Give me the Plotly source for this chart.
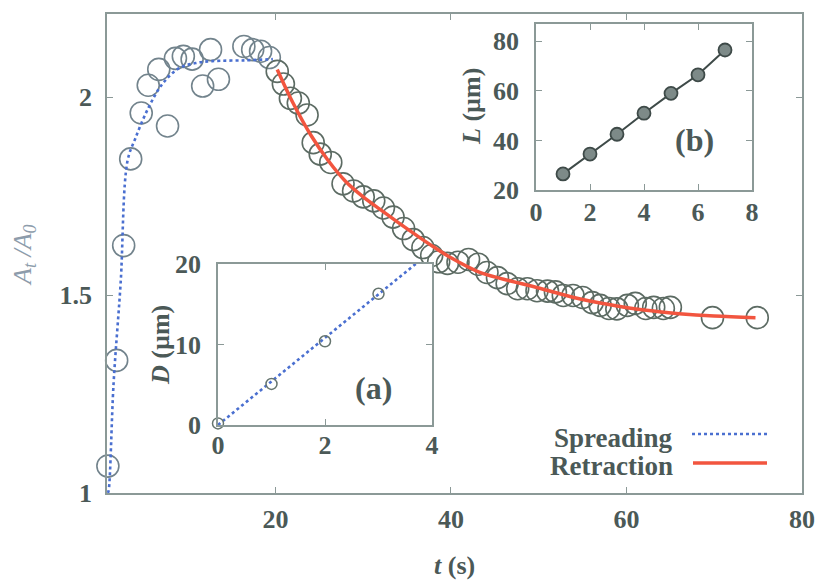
import plotly.graph_objects as go

# ---------------- data ----------------
spread_t = [0.9, 1.9, 2.7, 3.5, 4.7, 5.5, 6.7, 7.7, 8.6, 9.5, 10.5, 11.7, 12.6, 13.5,
            16.4, 17.4, 18.3, 19.3]
spread_A = [1.068, 1.335, 1.625, 1.844, 1.960, 2.030, 2.070, 1.927, 2.098, 2.103, 2.096,
            2.028, 2.120, 2.045, 2.128, 2.120, 2.116, 2.100]

retract_t = [20.2, 20.9, 21.7, 22.6, 23.6, 24.3, 25.1, 26.3, 27.7, 28.9, 30.0, 31.2, 32.3,
             33.4, 34.6, 35.7, 36.8, 37.8, 38.6, 39.6, 40.8, 42.0, 43.1, 44.1, 45.3, 46.4,
             47.6, 48.7, 49.8, 51.0, 51.9, 52.8, 53.9, 55.0, 56.1, 57.0, 58.0, 58.9, 60.1,
             61.0, 62.2, 63.1, 64.2, 65.0, 69.8, 74.9]
retract_A = [2.065, 2.033, 1.997, 1.985, 1.955, 1.885, 1.856, 1.835, 1.781, 1.763, 1.748,
             1.738, 1.720, 1.697, 1.668, 1.640, 1.620, 1.600, 1.584, 1.580, 1.583, 1.590,
             1.578, 1.557, 1.544, 1.529, 1.516, 1.516, 1.511, 1.510, 1.508, 1.499, 1.499,
             1.494, 1.481, 1.474, 1.466, 1.465, 1.474, 1.479, 1.466, 1.469, 1.466, 1.469,
             1.443, 1.443]

spread_fit_t = [0.9, 1.0, 1.55, 2.35, 3.14, 4.05, 5.5, 7.1, 9.0, 10.9, 12.8, 16.6, 19.7]
spread_fit_A = [1.0, 1.008, 1.277, 1.529, 1.839, 1.897, 1.972, 2.033, 2.073, 2.086, 2.091,
                2.093, 2.096]

retract_fit_t = [20.2, 22, 24, 26, 28, 30, 32, 34, 36, 38, 40, 43, 46, 50, 54, 58, 62, 66,
                 70, 74.7]
retract_fit_A = [2.070, 1.985, 1.905, 1.840, 1.787, 1.748, 1.715, 1.683, 1.652, 1.622, 1.594,
                 1.560, 1.540, 1.518, 1.494, 1.476, 1.462, 1.453, 1.447, 1.443]

# inset (a)
a_x = [0, 1, 2, 3]
a_D = [0.2, 5.1, 10.4, 16.3]
a_fit_x = [0, 3.75]
a_fit_D = [0, 20.3]

# inset (b)
b_x = [1, 2, 3, 4, 5, 6, 7]
b_L = [26.5, 34.5, 42.5, 51.0, 59.0, 66.5, 76.5]

main_xticks = [20, 40, 60, 80]
main_yticks = [1, 1.5, 2]
a_xticks = [0, 2, 4]
a_yticks = [0, 10, 20]
b_xticks = [0, 2, 4, 6, 8]
b_yticks = [20, 40, 60, 80]

# ---------------- style ----------------
W, H = 822, 584
ML, MR, MT, MB = 107, 20, 14, 91
PW, PH = W - ML - MR, H - MT - MB

def px(x):
    return (x - ML) / PW

def py(y):
    return (H - MB - y) / PH

FRAME = '#8b9997'
TXT = '#4b5957'
SERIF = 'Liberation Serif, Times New Roman, serif'
tickfont = dict(family=SERIF, size=26, color=TXT, weight='bold')

fig = go.Figure()

# main plot
fig.add_trace(go.Scatter(x=spread_t, y=spread_A, mode='markers',
                         marker=dict(symbol='circle-open', size=22, color='#72838c',
                                     line=dict(width=1.6)),
                         cliponaxis=False, showlegend=False, xaxis='x', yaxis='y'))
fig.add_trace(go.Scatter(x=retract_t, y=retract_A, mode='markers',
                         marker=dict(symbol='circle-open', size=22, color='#5c6b63',
                                     line=dict(width=1.6)),
                         cliponaxis=False, showlegend=False, xaxis='x', yaxis='y'))
fig.add_trace(go.Scatter(x=spread_fit_t, y=spread_fit_A, mode='lines',
                         line=dict(color='#4a6fd0', width=2.6, dash='dot', shape='spline'),
                         showlegend=False, xaxis='x', yaxis='y'))
fig.add_trace(go.Scatter(x=retract_fit_t, y=retract_fit_A, mode='lines',
                         line=dict(color='#f2553f', width=3.5, shape='spline'),
                         showlegend=False, xaxis='x', yaxis='y'))

# inset (a)
fig.add_trace(go.Scatter(x=a_fit_x, y=a_fit_D, mode='lines',
                         line=dict(color='#4a6fd0', width=2.6, dash='dot'),
                         showlegend=False, xaxis='x2', yaxis='y2', cliponaxis=False))
fig.add_trace(go.Scatter(x=a_x, y=a_D, mode='markers',
                         marker=dict(symbol='circle-open', size=11, color='#66756f',
                                     line=dict(width=1.5)),
                         cliponaxis=False, showlegend=False, xaxis='x2', yaxis='y2'))

# inset (b)
fig.add_trace(go.Scatter(x=b_x, y=b_L, mode='lines+markers',
                         line=dict(color='#3e4a48', width=2),
                         marker=dict(symbol='circle', size=13, color='#7d8a88',
                                     line=dict(color='#3e4a48', width=1.8)),
                         cliponaxis=False, showlegend=False, xaxis='x3', yaxis='y3'))

axis_common = dict(showline=True, mirror='ticks', linecolor=FRAME, linewidth=1.6,
                   ticks='inside', ticklen=6, tickcolor=FRAME, tickwidth=1.2,
                   showgrid=False, zeroline=False, tickfont=tickfont, automargin=False)

a_dom_x = [px(218), px(432)]
a_dom_y = [py(425), py(264)]
b_dom_x = [px(536), px(752)]
b_dom_y = [py(190), py(24)]

fig.update_layout(
    width=W, height=H,
    margin=dict(l=ML, r=MR, t=MT, b=MB, autoexpand=False),
    paper_bgcolor='white', plot_bgcolor='white',
    xaxis=dict(axis_common, range=[0.8, 80], tickvals=main_xticks,
               domain=[0, 1], anchor='y', ticklabelstandoff=2),
    yaxis=dict(axis_common, range=[1, 2.21], tickvals=main_yticks,
               ticktext=['1', '1.5', '2'], domain=[0, 1], anchor='x', ticklabelstandoff=8),
    xaxis2=dict(axis_common, range=[0, 4], tickvals=a_xticks, domain=a_dom_x,
                anchor='y2', ticklabelstandoff=-4),
    yaxis2=dict(axis_common, range=[0, 20], tickvals=a_yticks, domain=a_dom_y,
                anchor='x2', ticklabelstandoff=10),
    xaxis3=dict(axis_common, range=[0, 8], tickvals=b_xticks, domain=b_dom_x,
                anchor='y3', ticklabelstandoff=-2),
    yaxis3=dict(axis_common, range=[20, 87], tickvals=b_yticks, domain=b_dom_y,
                anchor='x3', ticklabelstandoff=10),
)

def note(text, x, y, size, color=TXT, angle=0, xanchor='center'):
    return dict(text=text, x=px(x), y=py(y), xref='paper', yref='paper',
                xanchor=xanchor, yanchor='middle', showarrow=False, textangle=angle,
                font=dict(family=SERIF, size=size, color=color))

ann = [
    note('<b><i>t</i> (s)</b>', 455, 565, 26),
    note('<i>A<sub>t</sub> /A<sub>0</sub></i>', 24, 255, 26, color='#8d9cab', angle=-90),
    note('<b><i>D</i> (µm)</b>', 160, 345, 26, angle=-90),
    note('<b><i>L</i> (µm)</b>', 471, 107, 26, angle=-90),
    note('<b>(a)</b>', 373, 388, 32),
    note('<b>(b)</b>', 694, 140, 32),
    note('<b>Spreading</b>', 675, 438, 27, xanchor='right'),
    note('<b>Retraction</b>', 675, 466, 27, xanchor='right'),
]
fig.update_layout(annotations=ann)

fig.add_shape(type='line', xref='paper', yref='paper', x0=px(692), x1=px(767),
              y0=py(434), y1=py(434), line=dict(color='#4a6fd0', width=2.6, dash='dot'))
fig.add_shape(type='line', xref='paper', yref='paper', x0=px(693), x1=px(767),
              y0=py(463), y1=py(463), line=dict(color='#f2553f', width=3.5))

fig.write_html('out.html')
